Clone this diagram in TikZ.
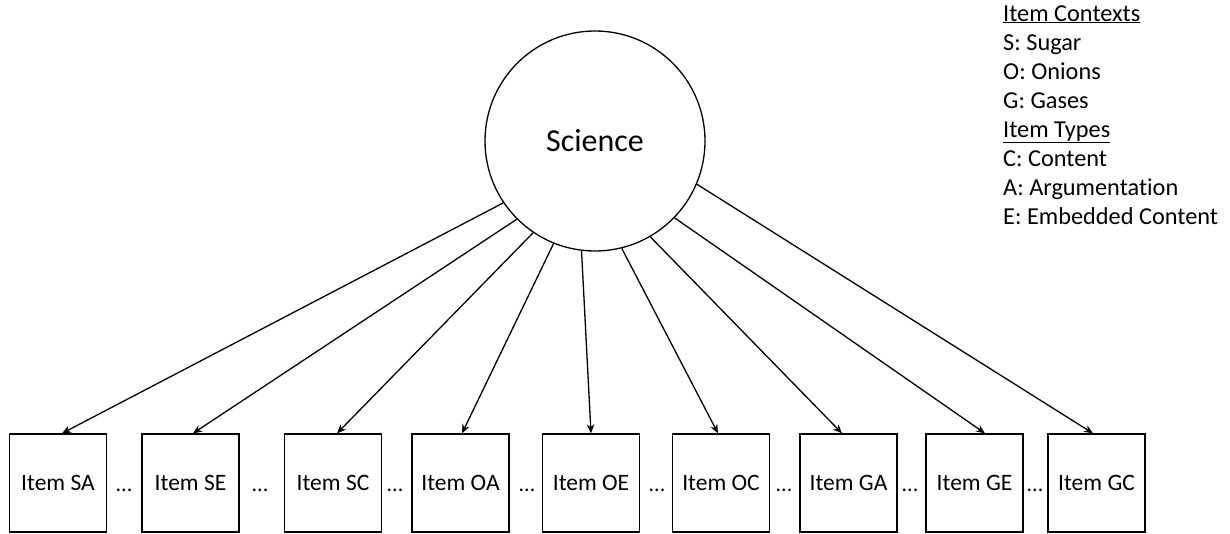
\documentclass[tikz,border=0pt]{standalone}
\usepackage{fontspec}
\setmainfont{Carlito}[Ligatures=NoCommon]
\usetikzlibrary{arrows.meta, positioning}

\tikzset{
  latent/.style={draw, circle, line width=1.3pt, minimum size=220pt, inner sep=0pt,
    font=\fontsize{32}{38}\selectfont},
  item/.style={draw, rectangle, line width=1.3pt, minimum width=97pt, minimum height=98pt,
    inner sep=0pt, font=\fontsize{23.5}{28}\selectfont},
  gap/.style={anchor=base, inner sep=0pt, font=\fontsize{22}{26}\selectfont},
  key/.style={anchor=base west, inner sep=0pt, font=\fontsize{24.3}{29}\selectfont},
}

\begin{document}
\begin{tikzpicture}[x=1pt,y=-1pt,>={Stealth[length=9pt,width=7.5pt]}]
\useasboundingbox (0,0) rectangle (1230,533);
\node[latent] (sci) at (595,141) {Science};
% items
\foreach \nm/\x/\lab/\ang/\dx in {sa/58/SA/214/4, se/190.5/SE/225/2.5, sc/333/SC/236/4,
    oa/460.5/OA/248/1.5, oe/591/OE/263/0, oc/721/OC/284.5/-3, ga/848.5/GA/300/-6.5,
    ge/974.5/GE/316/10.5, gc/1096.5/GC/337/-3.5}{
  \node[item] (\nm) at (\x,483) {Item \lab};
  \draw[->, line width=1.3pt] (sci.\ang) -- ([xshift=\dx pt]\nm.north);
}
\foreach \x [count=\i] in {124,260,395,527,657,784,910,1035}
  \node[gap] (d\i) at (\x,491) {...};
% legend
\foreach \txt [count=\i] in {\underline{Item Contexts}, S: Sugar, O: Onions, G: Gases,
    \underline{Item Types}, C: Content, A: Argumentation, E: Embedded Content}
  \node[key] (k\i) at (1003,{21+29*(\i-1)}) {\txt};
\end{tikzpicture}
\end{document}
